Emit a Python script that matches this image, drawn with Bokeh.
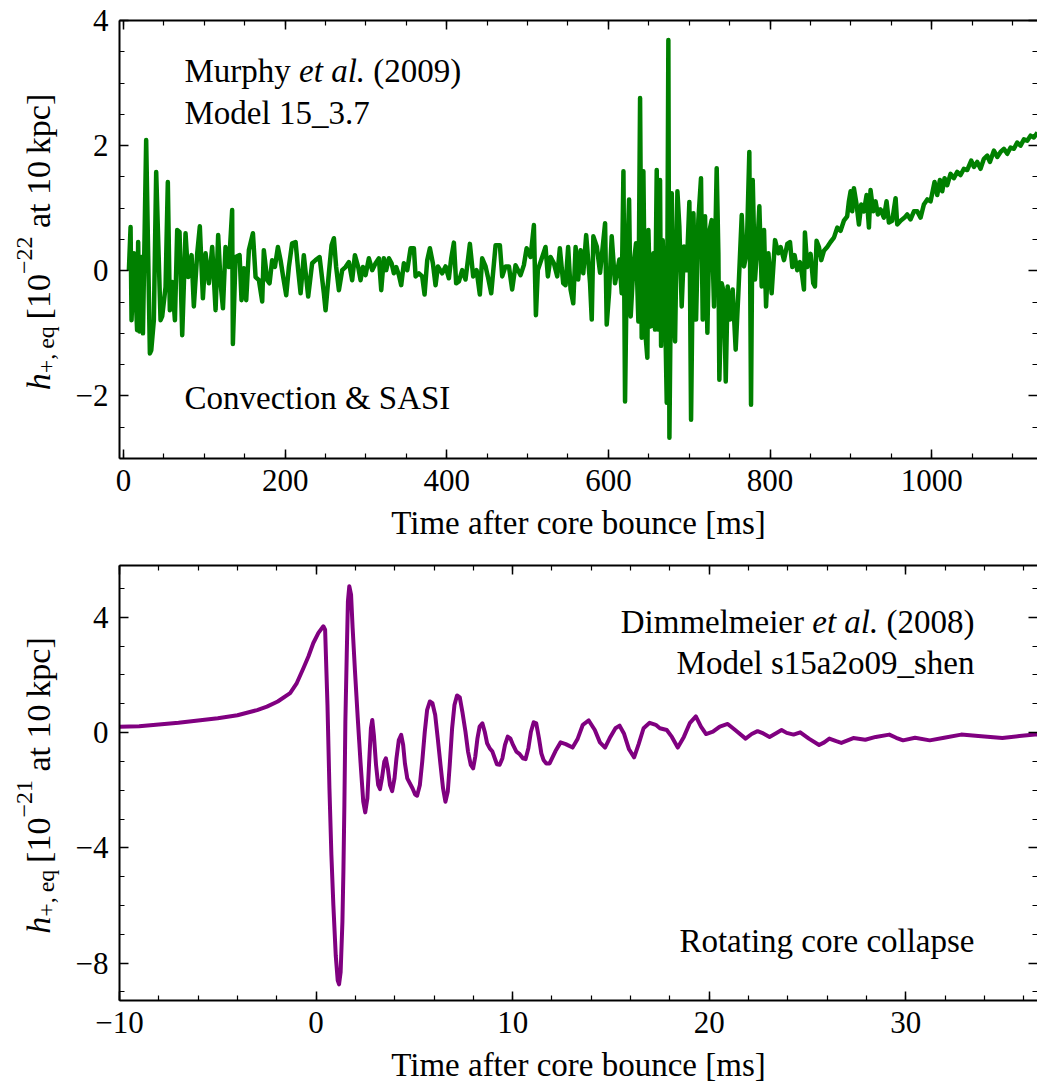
import math
from bokeh.plotting import figure
from bokeh.models import Label, LinearAxis, FixedTicker, CustomJSTickFormatter, Range1d
from bokeh.layouts import column, row
from bokeh.embed import file_html
from bokeh.resources import INLINE

# ---------------- data ----------------
# Murphy et al. (2009), model 15_3.7  (time [ms], h [1e-22])
murphy_t = [
    6.6, 8.7, 9.9, 12.8, 16.8, 18.1, 19.8, 22.3, 24.0, 28.0, 32.6, 34.3, 37.5, 40.4, 45.8, 47.8,
    52.0, 54.8, 57.3, 60.2, 63.6, 66.4, 69.3, 72.6, 76.7, 80.0, 84.2, 87.0, 91.2, 94.4, 98.2,
    101.5, 105.6, 109.7, 113.9, 117.1, 120.1, 123.0, 126.2, 130.4, 134.4, 135.3, 138.6, 143.6,
    146.0, 148.9, 151.8, 155.1, 160.1, 163.4, 167.5, 171.6, 173.6, 177.8, 180.7, 183.9, 187.3,
    191.0, 194.3, 197.6, 201.3, 204.6, 208.6, 212.9, 216.1, 219.1, 223.1, 228.5, 233.4, 237.6,
    242.6, 247.9, 250.0, 254.1, 257.4, 260.3, 263.1, 266.5, 270.6, 274.7, 278.9, 282.9, 286.3,
    290.4, 293.3, 296.2, 299.5, 303.6, 307.7, 311.9, 316.0, 318.9, 322.1, 325.0, 328.4, 331.7,
    334.5, 337.4, 340.8, 343.6,
    346.9, 351.1, 355.2, 359.3, 361.4, 365.5, 369.6, 372.5, 375.8, 379.1, 382.8, 386.1, 389.0,
    394.3, 398.5, 402.6, 405.5, 408.8, 411.6, 415.0, 419.1, 423.2, 428.6, 432.7, 436.9, 440.9,
    443.8, 448.0, 450.8, 455.0, 460.4, 465.7, 468.6, 472.7, 476.9, 480.9, 485.1, 491.3, 495.4,
    498.8, 503.7, 507.8, 510.3, 512.7, 518.1, 522.2, 525.1, 528.5, 532.5, 536.7, 539.9, 544.1,
    547.0, 550.2, 553.2, 556.5, 559.4, 562.6, 565.6, 568.9, 572.5,
    577.3, 579.4, 581.4, 585.6, 589.7, 593.0, 595.9, 597.9, 600.8, 604.1, 608.2, 613.6, 616.5,
    618.6, 620.6, 622.7, 625.6, 627.6, 630.9, 634.2, 637.1, 639.2, 641.2, 643.3, 645.4, 648.2,
    649.5, 652.4, 655.7, 657.7, 659.8, 661.9, 663.9, 665.2, 667.2, 670.1, 672.2, 674.2, 675.5,
    678.4, 680.4, 682.5, 685.4, 687.8, 690.7, 693.6, 696.9, 700.2, 702.3, 705.2, 708.5, 711.3,
    714.6, 716.7, 719.6, 722.5, 724.9, 727.8, 730.7, 734.0, 736.1, 737.3, 740.2, 743.1, 745.2,
    747.6, 750.5, 753.8, 757.5, 760.8, 765.0, 767.8, 771.1, 774.4, 776.5, 778.6, 781.4, 784.3,
    786.8, 789.7, 792.6, 795.1, 798.0, 802.0, 806.2, 810.3,
    813.1, 817.3, 821.4, 824.7, 827.6, 830.4, 833.7, 837.0, 839.9, 842.0, 843.2, 846.1, 850.2,
    853.5, 855.6, 857.6, 860.5, 863.4, 866.7, 870.8, 874.9, 879.1, 883.2, 887.3, 891.4, 895.5,
    897.6, 899.7, 901.7, 903.8, 907.1, 910.0, 912.9, 916.2, 919.5, 922.4, 924.4, 927.7, 930.6,
    933.5, 936.8, 940.9, 944.2, 947.1, 951.2, 955.4, 957.4, 961.6, 966.5, 969.8, 973.9, 978.1,
    982.2, 986.3, 990.4, 994.6, 998.7, 1003.6, 1006.9, 1010.2, 1013.1, 1016.0, 1019.3, 1023.4,
    1027.5, 1031.7, 1035.8, 1039.9, 1044.0, 1049.0, 1052.3, 1056.4, 1060.5, 1064.7, 1068.8,
    1072.1, 1077.0, 1081.2, 1085.3, 1089.4, 1093.6, 1097.7, 1101.8, 1105.9, 1110.0, 1114.2,
    1118.3, 1122.4, 1126.5, 1131.0,
]
murphy_h = [
    0.0, 0.70, -0.79, 0.28, -0.95, 0.46, -0.97, 0.22, -1.0, 2.09, -1.32, -1.27, -0.79, 1.58, -0.79, -0.73,
    -0.26, 1.42, -0.63, -0.18, -0.79, 0.65, 0.62, -1.03, 0.6, -0.1, 0.25, -0.57, 0.28, 0.71, -0.44,
    0.28, -0.2, 0.38, -0.63, 0.57, -0.2, -0.6, 0.38, 0.06, 0.97, -1.17, 0.22, 0.25,
    -0.47, 0.04, -0.47, 0.33, 0.6, -0.1, -0.15, -0.49, 0.33, -0.15, -0.2, 0.17, 0.06,
    0.38, 0.17, -0.1, -0.39, 0.06, 0.44, 0.46, 0.01, -0.36, 0.25, -0.41, 0.12, 0.17,
    0.22, -0.36, -0.63, -0.04, 0.41, 0.52, 0.06, -0.31, 0.01, 0.06, 0.14, -0.15, 0.25,
    0.06, -0.15, 0.06, -0.07, 0.2, 0.01, 0.12, 0.2, -0.31, 0.2, 0.01, 0.2, 0.12,
    -0.04, 0.06, -0.07, -0.23,
    0.12, 0.01, 0.36, 0.36, -0.09, -0.04, -0.09, -0.38, 0.17, 0.36, 0.12, -0.23, 0.07,
    -0.04, 0.07, -0.12, 0.2, 0.45, -0.2, -0.17, 0.01, -0.14, 0.43, -0.09, 0.01, -0.38,
    0.2, 0.07, -0.09, -0.36, 0.41, 0.41, -0.09, 0.07, 0.07, -0.3, 0.09, -0.07, 0.09,
    0.36, 0.22, 0.73, -0.71, 0.01, 0.22, 0.38, -0.09, 0.22, 0.12, -0.09, 0.36, -0.2,
    -0.23, 0.38, -0.3, -0.52, 0.38, -0.14, 0.33, -0.04, 0.57,
    -0.2, -0.78, 0.55, 0.39, -0.03, 0.39, 0.76, -0.86, -0.36, 0.55, -0.2, 0.18, -0.36,
    1.59, -2.09, -0.03, 1.14, -0.73, 0.07, 0.44, -0.81, 2.76, -1.07, 1.59, -0.94, -1.39,
    0.65, -0.89, 0.28, -0.94, 1.61, -0.94, 1.45, -1.2, 0.49, -0.57, -2.11, 3.69, -2.67,
    1.24, -0.52, -1.13, 1.27, 0.71, -0.57, 0.39, 0.01, 1.1, -2.38, 0.92, -0.78, 0.81,
    1.48, -0.78, 0.87, -0.99, 0.63, 0.81, -0.57, 1.64, 0.28, -1.74, -0.2, -0.36, -1.77,
    -0.25, -0.78, -0.3, -1.26, -0.36, 0.89, 0.07, 0.28, 1.9, -2.14, 1.45, -0.14, 0.39,
    1.03, -0.25, 0.65, -0.57, 0.28, -0.36, 0.49, 0.28,
    0.38, 0.17, 0.43, 0.46, 0.06, 0.25, 0.01, 0.14, -0.09, -0.3, 0.61, 0.06, 0.27,
    -0.2, -0.25, 0.48, 0.38, 0.17, 0.32, 0.38, 0.46, 0.53, 0.69, 0.64, 0.8, 0.87,
    1.11, 1.27, 0.95, 1.32, 1.06, 0.74, 1.06, 0.95, 1.21, 0.69, 1.29, 0.95, 1.11,
    0.9, 0.98, 0.85, 1.11, 0.77, 0.8, 1.16, 0.74, 0.8, 0.85, 0.9, 0.82, 0.95,
    0.95, 0.85, 1.06, 1.14, 1.11, 1.42, 1.21, 1.45, 1.27, 1.48, 1.37, 1.55,
    1.48, 1.58, 1.53, 1.63, 1.61, 1.76, 1.66, 1.74, 1.63, 1.79, 1.84,
    1.74, 1.92, 1.82, 1.9, 1.95, 1.87, 1.97, 1.95, 2.05, 2.0, 2.1,
    2.08, 2.16, 2.13, 2.21,
]

# Dimmelmeier et al. (2008), model s15a2o09_shen  (time [ms], h [1e-21])
dimm_t = [
    -10.0, -9.0, -8.0, -7.0, -6.0, -5.0, -4.0, -3.0, -2.5, -1.95, -1.32, -0.98, -0.64, -0.39,
    -0.14, 0.12, 0.37, 0.46, 0.58, 0.68, 0.78, 0.88, 1.00, 1.10, 1.17, 1.25, 1.34, 1.39, 1.44,
    1.49, 1.56, 1.62, 1.69, 1.78, 1.86, 1.98, 2.12, 2.27, 2.40, 2.50, 2.61, 2.71, 2.79, 2.86,
    2.94, 3.05, 3.16, 3.25, 3.35, 3.47, 3.55, 3.65, 3.76, 3.87, 3.99, 4.09, 4.21, 4.33, 4.43,
    4.52, 4.64, 4.77, 4.91, 5.04, 5.14, 5.28, 5.40, 5.53, 5.65, 5.79, 5.92, 6.06, 6.19, 6.33,
    6.46, 6.58, 6.70, 6.80, 6.92, 7.04, 7.17, 7.31, 7.44, 7.60, 7.73, 7.87, 7.99, 8.10, 8.21,
    8.32, 8.46, 8.58, 8.70, 8.83, 8.97, 9.09, 9.20, 9.34, 9.48, 9.61, 9.75, 9.88, 10.02, 10.19,
    10.36, 10.52, 10.66, 10.80, 10.93, 11.07, 11.20, 11.34, 11.46, 11.57, 11.71, 11.88,
    12.18, 12.44, 12.70, 13.05, 13.31, 13.57, 13.87, 14.18, 14.44, 14.70, 14.97, 15.23, 15.44,
    15.66, 15.92, 16.18, 16.41, 16.66, 16.97, 17.28, 17.49, 17.84, 18.10, 18.40, 18.71, 19.02,
    19.32, 19.58, 19.84, 20.19, 20.54, 20.94, 21.32, 21.85, 22.16, 22.46, 22.75, 23.07, 23.38,
    23.68, 23.94, 24.29, 24.63, 25.07, 25.59, 25.85, 26.11, 26.46, 26.72, 27.33, 27.94, 28.47,
    29.16, 29.51, 29.86, 30.47, 31.22, 31.95, 32.82, 33.69, 34.91, 35.78, 36.57, 36.90,
]
dimm_h = [
    0.20, 0.22, 0.28, 0.34, 0.42, 0.50, 0.60, 0.78, 0.90, 1.08, 1.37, 1.72, 2.24, 2.64,
    3.11, 3.46, 3.69, 3.57, 0.96, -1.94, -4.26, -6.00, -7.73, -8.60, -8.74, -8.31, -6.57, -4.83, -2.52,
    0.38, 2.70, 4.56, 5.08, 4.79, 3.63, 2.12, 0.50, -1.12, -2.40, -2.77, -2.28, -0.89, 0.15, 0.44,
    -0.08, -1.12, -1.82, -1.96, -1.59, -1.01, -0.89, -1.24, -1.82, -2.03, -1.59, -0.89, -0.26, -0.08, -0.43,
    -1.07, -1.59, -1.76, -1.94, -2.15, -2.19, -1.82, -1.01, 0.03, 0.79, 1.08, 1.02, 0.61, -0.20, -1.12,
    -1.94, -2.40, -2.05, -1.12, 0.15, 0.96, 1.29, 1.22, 0.73, 0.03, -0.66, -1.12, -1.24, -0.83, -0.20,
    0.21, 0.32, 0.03, -0.37, -0.54, -0.66, -0.89, -1.10, -1.12, -0.89, -0.43, -0.14, -0.20, -0.43, -0.66,
    -0.75, -0.89, -0.92, -0.54, 0.03, 0.36, 0.32, -0.20, -0.72, -0.95, -1.07, -1.07,
    -0.64, -0.34, -0.40, -0.52, -0.21, 0.27, 0.42, 0.09, -0.34, -0.52, -0.15, 0.15, 0.24,
    -0.03, -0.58, -0.86, -0.40, 0.15, 0.34, 0.27, 0.15, 0.09, -0.15, -0.52, -0.15, 0.34,
    0.56, 0.21, -0.05, 0.03, 0.21, 0.30, 0.09, -0.21, -0.05, 0.05, -0.03, -0.15, -0.03,
    0.09, -0.01, -0.07, 0.01, -0.21, -0.43, -0.34, -0.21, -0.30, -0.36, -0.19, -0.25, -0.15,
    -0.07, -0.18, -0.27, -0.18, -0.27, -0.18, -0.07, -0.12, -0.19, -0.12, -0.07, -0.05,
]

top_xticks = [0, 200, 400, 600, 800, 1000]
top_xminor = [50 * i for i in range(0, 23)]
top_yticks = [-2, 0, 2, 4]
top_yminor = [-3 + 0.5 * i for i in range(0, 15)]
bot_xticks = [-10, 0, 10, 20, 30]
bot_xminor = [-10 + 2 * i for i in range(0, 24)]
bot_yticks = [-8, -4, 0, 4]
bot_yminor = [-9 + i for i in range(0, 15)]

x_title = "Time after core bounce [ms]"

# ---------------- style ----------------
FONT = "Liberation Serif"
W = 1037
LW = 72                      # width of the strip holding the y-axis title
FRAME_L, FRAME_R = 119, 1037

REG = {' ': 250, '(': 333, ')': 333, 'M': 889, 'u': 500, 'r': 333, 'p': 500, 'h': 500, 'y': 500,
       'D': 722, 'i': 278, 'm': 778, 'e': 444, 'l': 278, '+': 564, ',': 250, 'q': 500, '[': 333,
       ']': 333, '\u2212': 564, 'a': 444, 't': 278, 'k': 500, 'c': 444, '\u2009': 200, '.': 250}
ITA = {'e': 444, 't': 278, ' ': 250, 'a': 500, 'l': 278, '.': 250, 'h': 500}


def twidth(s, size, style):
    tab = ITA if style == "italic" else REG
    return sum(tab.get(ch, 500) for ch in s) / 1000.0 * size


fmt = CustomJSTickFormatter(code="return tick < 0 ? '\\u2212' + Math.abs(tick) : String(tick);")


def style_axis(ax, ticks, minor, show_labels=True, show_line=True):
    ax.ticker = FixedTicker(ticks=ticks, minor_ticks=minor)
    ax.major_tick_in = 9
    ax.major_tick_out = 0
    ax.minor_tick_in = 5
    ax.minor_tick_out = 0
    ax.major_tick_line_width = 1.5
    ax.minor_tick_line_width = 1.2
    ax.major_tick_line_color = "black"
    ax.minor_tick_line_color = "black"
    ax.axis_line_width = 2
    ax.axis_line_color = "black" if show_line else None
    ax.formatter = fmt
    if show_labels:
        ax.major_label_text_font = FONT
        ax.major_label_text_font_size = "31px"
        ax.major_label_text_color = "black"
    else:
        ax.major_label_text_font_size = "1px"
        ax.major_label_text_color = None
        ax.major_label_text_alpha = 0
        ax.major_label_standoff = 0


def make_panel(height, top_px, frame_top, frame_bottom, xr, yr, xt, xm, yt, ym):
    yrange = Range1d(*yr)
    bt = frame_top - top_px
    bb = top_px + height - frame_bottom
    p = figure(width=W - LW, height=height, x_range=Range1d(*xr), y_range=yrange,
               output_backend="svg", toolbar_location=None,
               min_border_left=FRAME_L - LW, min_border_right=0,
               min_border_top=bt, min_border_bottom=bb)
    p.outline_line_color = None
    p.xgrid.visible = False
    p.ygrid.visible = False
    p.background_fill_color = "white"
    p.border_fill_color = "white"
    xa = p.xaxis[0]
    ya = p.yaxis[0]
    style_axis(xa, xt, xm)
    style_axis(ya, yt, ym)
    xa.major_label_standoff = 11
    ya.major_label_standoff = 11
    xa.axis_label = x_title
    xa.axis_label_text_font = FONT
    xa.axis_label_text_font_size = "33px"
    xa.axis_label_text_font_style = "normal"
    xa.axis_label_text_color = "black"
    xa.axis_label_standoff = 11
    top_ax = LinearAxis()
    style_axis(top_ax, xt, xm, show_labels=False)
    p.add_layout(top_ax, "above")
    right_ax = LinearAxis()
    style_axis(right_ax, yt, ym, show_labels=False, show_line=False)
    p.add_layout(right_ax, "right")
    geom = dict(L=FRAME_L, R=FRAME_R, T=frame_top, B=frame_bottom,
                x0=xr[0], x1=xr[1], y0=yr[0], y1=yr[1])

    # strip on the left that carries the rotated y-axis title; it shares the panel's
    # y range and frame borders so that its vertical mapping equals the panel's
    s = figure(width=LW, height=height, x_range=Range1d(0, LW), y_range=yrange,
               x_axis_type=None, y_axis_type=None, output_backend="svg", toolbar_location=None,
               min_border_left=0, min_border_right=0, min_border_top=bt, min_border_bottom=bb)
    s.outline_line_color = None
    s.xgrid.visible = False
    s.ygrid.visible = False
    s.background_fill_color = "white"
    s.border_fill_color = "white"
    sgeom = dict(L=0, R=LW, T=frame_top, B=frame_bottom, x0=0, x1=LW, y0=yr[0], y1=yr[1])
    return p, geom, s, sgeom


def add_text(p, g, px, py, text, size, style="normal", align="left", angle=0.0):
    x = g["x0"] + (px - g["L"]) * (g["x1"] - g["x0"]) / (g["R"] - g["L"])
    y = g["y1"] - (py - g["T"]) * (g["y1"] - g["y0"]) / (g["B"] - g["T"])
    p.add_layout(Label(x=x, y=y, text=text, text_font=FONT, text_font_size=f"{size}px",
                       text_font_style=style, text_align=align, text_baseline="alphabetic",
                       angle=angle, text_color="black"))


def add_ylabel(s, sg, center, exponent):
    pieces = [("h", 34, "italic", 0),
              ("+,\u2009eq", 24, "normal", 7),
              ("\u2009[10", 34, "normal", 0),
              ("\u2212" + exponent, 24, "normal", -14),
              (" at 10\u2009kpc]", 34, "normal", 0)]
    total = sum(twidth(t, sz, st) for t, sz, st, _ in pieces)
    start = center + total / 2.0
    base_x = 38
    for t, sz, st, sh in pieces:
        lead = t[:len(t) - len(t.lstrip(' '))]
        start -= twidth(lead, sz, st)
        body = t.lstrip(' ')
        add_text(s, sg, base_x + sh, start, body, sz, st, angle=math.pi / 2)
        start -= twidth(body, sz, st)


def add_chain(p, g, px, py, pieces, size, align="left"):
    total = sum(twidth(t, size, st) for t, st in pieces)
    x = px if align == "left" else px - total
    for t, st in pieces:
        lead = t[:len(t) - len(t.lstrip(' '))]
        x += twidth(lead, size, st)
        body = t.lstrip(' ')
        add_text(p, g, x, py, body, size, st)
        x += twidth(body, size, st)


# ---------------- top panel ----------------
H1 = 546
p1, g1, s1, sg1 = make_panel(H1, 0, 20, 458, (-5, 1131), (-3, 4),
                             top_xticks, top_xminor, top_yticks, top_yminor)
p1.line(murphy_t, murphy_h, line_color="#008000", line_width=4.5, line_join="round")
add_ylabel(s1, sg1, (20 + 458) / 2.0 + 2.5, "22")
add_chain(p1, g1, 184, 70, [("Murphy", "normal"), (" et al.", "italic"), (" (2009)", "normal")], 33)
add_text(p1, g1, 184, 112, "Model 15_3.7", 33)
add_text(p1, g1, 184, 397, "Convection & SASI", 33)

# ---------------- bottom panel ----------------
H2 = 1085 - H1
p2, g2, s2, sg2 = make_panel(H2, H1, 565, 1000, (-10, 36.7), (-9.3, 5.8),
                             bot_xticks, bot_xminor, bot_yticks, bot_yminor)
p2.line(dimm_t, dimm_h, line_color="#800080", line_width=4, line_join="round")
add_ylabel(s2, sg2, (565 + 1000) / 2.0 + 2.5, "21")
R = 974
add_chain(p2, g2, R, 621, [("Dimmelmeier", "normal"), (" et al.", "italic"), (" (2008)", "normal")], 33, align="right")
add_text(p2, g2, R, 662, "Model s15a2o09_shen", 33, align="right")
add_text(p2, g2, R, 940, "Rotating core collapse", 33, align="right")

layout = column(row(s1, p1, spacing=0), row(s2, p2, spacing=0), spacing=0)
open("out.html", "w").write(file_html(layout, INLINE))
